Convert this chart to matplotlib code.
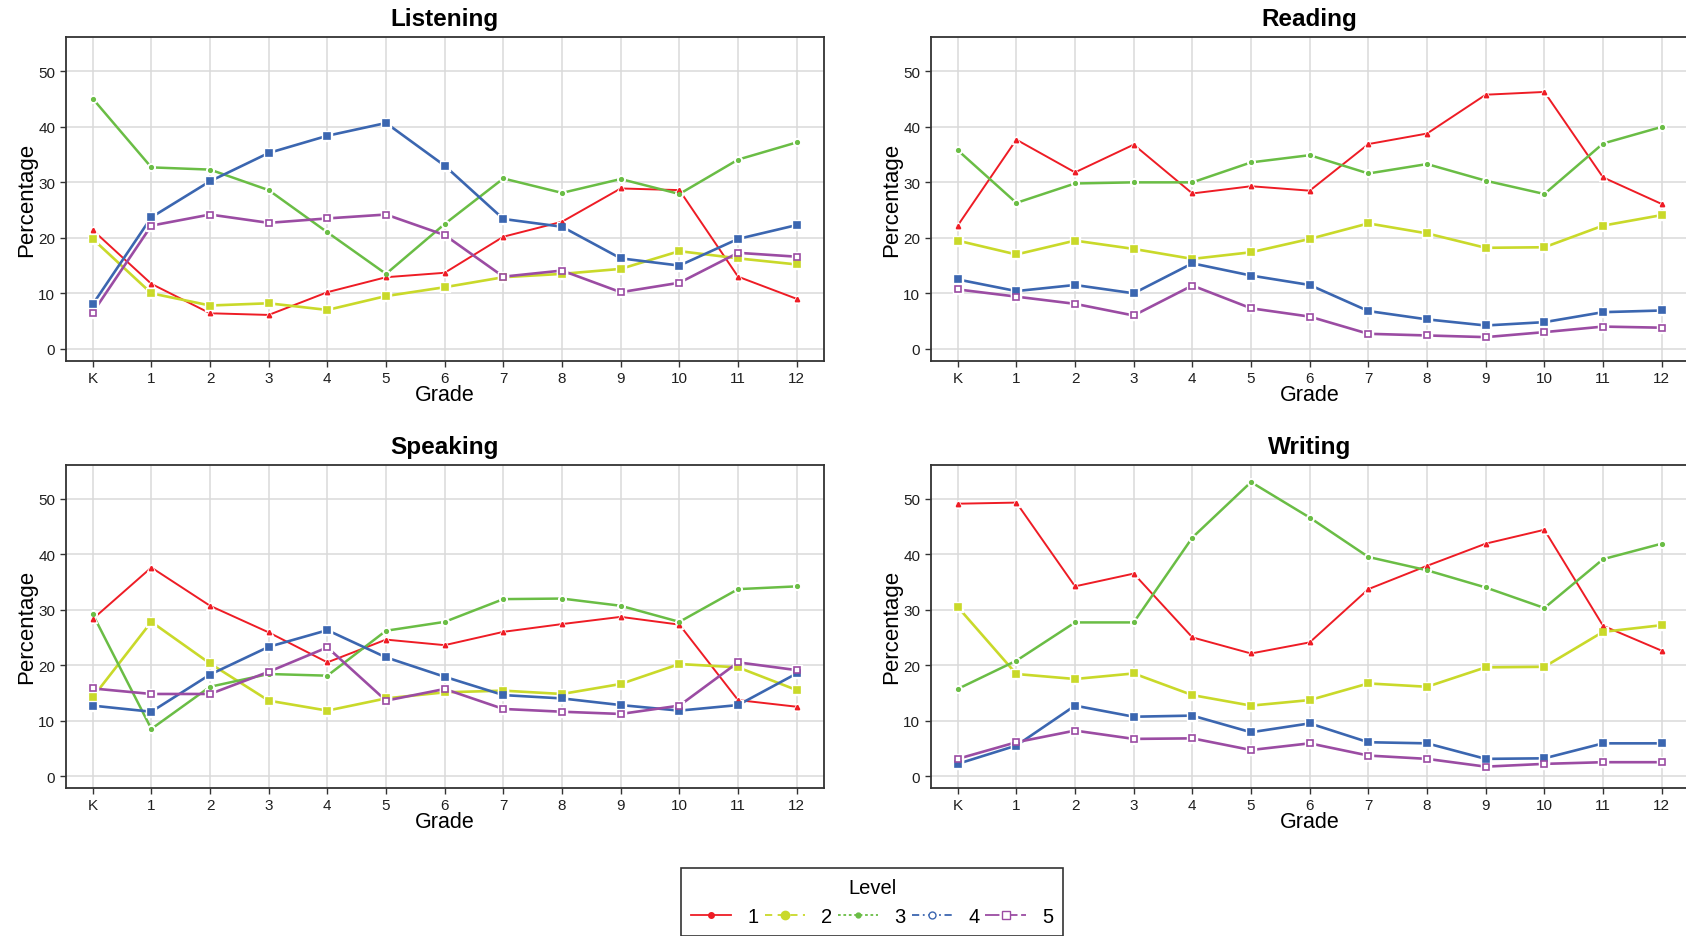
import matplotlib
matplotlib.use('Agg')
import matplotlib.pyplot as plt
from matplotlib.lines import Line2D
import numpy as np

plt.rcParams['font.family'] = ['Liberation Sans', 'DejaVu Sans']

grades = ['K', '1', '2', '3', '4', '5', '6', '7', '8', '9', '10', '11', '12']
levels = ['1', '2', '3', '4', '5']

listening_1 = [21.4, 11.7, 6.4, 6.1, 10.2, 12.9, 13.7, 20.2, 22.9, 28.9, 28.6, 13.0, 9.0]
listening_2 = [19.8, 10.0, 7.8, 8.2, 7.0, 9.5, 11.1, 12.9, 13.5, 14.4, 17.6, 16.3, 15.2]
listening_3 = [45.1, 32.7, 32.3, 28.6, 21.0, 13.5, 22.5, 30.7, 28.1, 30.6, 27.9, 34.1, 37.2]
listening_4 = [8.0, 23.7, 30.2, 35.3, 38.4, 40.7, 33.0, 23.4, 22.0, 16.3, 15.0, 19.8, 22.3]
listening_5 = [6.5, 22.2, 24.2, 22.7, 23.5, 24.2, 20.5, 13.0, 14.1, 10.2, 11.9, 17.3, 16.6]

reading_1 = [22.2, 37.7, 31.8, 36.8, 28.0, 29.3, 28.5, 36.9, 38.8, 45.8, 46.3, 30.9, 26.1]
reading_2 = [19.5, 17.0, 19.5, 18.0, 16.2, 17.4, 19.8, 22.6, 20.8, 18.2, 18.3, 22.2, 24.1]
reading_3 = [35.8, 26.3, 29.8, 30.0, 30.0, 33.6, 34.9, 31.6, 33.3, 30.3, 27.9, 37.0, 40.0]
reading_4 = [12.5, 10.4, 11.5, 10.0, 15.4, 13.2, 11.5, 6.8, 5.3, 4.2, 4.8, 6.6, 6.9]
reading_5 = [10.7, 9.4, 8.1, 6.0, 11.4, 7.3, 5.8, 2.7, 2.4, 2.1, 3.0, 4.0, 3.8]

speaking_1 = [28.3, 37.6, 30.7, 25.9, 20.5, 24.6, 23.6, 26.0, 27.4, 28.7, 27.3, 13.7, 12.5]
speaking_2 = [14.2, 27.8, 20.3, 13.6, 11.8, 14.0, 15.1, 15.4, 14.8, 16.6, 20.2, 19.6, 15.5]
speaking_3 = [29.2, 8.5, 16.1, 18.4, 18.1, 26.2, 27.8, 31.9, 32.0, 30.7, 27.8, 33.7, 34.2]
speaking_4 = [12.7, 11.6, 18.3, 23.3, 26.3, 21.4, 17.9, 14.6, 14.0, 12.8, 11.8, 12.8, 18.5]
speaking_5 = [15.8, 14.8, 14.8, 18.8, 23.2, 13.6, 15.7, 12.1, 11.6, 11.2, 12.7, 20.5, 19.1]

writing_1 = [49.1, 49.3, 34.2, 36.5, 25.0, 22.1, 24.1, 33.7, 37.9, 41.9, 44.4, 27.1, 22.6]
writing_2 = [30.5, 18.4, 17.5, 18.5, 14.6, 12.7, 13.7, 16.7, 16.1, 19.6, 19.7, 26.0, 27.2]
writing_3 = [15.7, 20.8, 27.7, 27.7, 43.0, 53.0, 46.6, 39.5, 37.1, 34.0, 30.3, 39.1, 41.9]
writing_4 = [2.2, 5.5, 12.7, 10.7, 10.9, 7.9, 9.5, 6.1, 5.9, 3.1, 3.2, 5.9, 5.9]
writing_5 = [3.1, 6.1, 8.2, 6.7, 6.8, 4.7, 5.9, 3.7, 3.1, 1.7, 2.2, 2.5, 2.5]

panels = [
    ('Listening', [listening_1, listening_2, listening_3, listening_4, listening_5]),
    ('Reading', [reading_1, reading_2, reading_3, reading_4, reading_5]),
    ('Speaking', [speaking_1, speaking_2, speaking_3, speaking_4, speaking_5]),
    ('Writing', [writing_1, writing_2, writing_3, writing_4, writing_5]),
]

colors = ['#EE1C25', '#C9D92A', '#6ABD45', '#3B66B0', '#9B4CA3']
markers = ['^', 's', 'o', 's', 's']
msizes = [3, 4, 2.5, 4, 4.5]
mfaces = ['#EE1C25', '#C9D92A', '#6ABD45', '#3B66B0', 'white']
lwidths = [1.4, 1.9, 1.8, 1.9, 1.9]

W, H = 1686, 937
fig = plt.figure(figsize=(W / 100, H / 100), dpi=100)

ax_w = 758 / W
ax_h = 323.4 / H
lefts = [65.7 / W, 930.7 / W]
bottoms = [1 - 361.7 / H, 1 - 789 / H]
x = np.arange(len(grades))

for i, (title, series) in enumerate(panels):
    ax = fig.add_axes([lefts[i % 2], bottoms[i // 2], ax_w, ax_h])
    for j, vals in enumerate(series):
        ax.plot(x, vals, color=colors[j], lw=lwidths[j], zorder=3)
        ax.plot(x, vals, ls='none', marker=markers[j], ms=msizes[j] + 3,
                mfc='white', mec='white', zorder=4)
        ax.plot(x, vals, ls='none', marker=markers[j], ms=msizes[j],
                mfc=mfaces[j], mec=colors[j], mew=1.2, zorder=5)
    ax.set_xlim(-0.46, 12.46)
    ax.set_ylim(-2.15, 56.15)
    ax.set_xticks(x)
    ax.set_xticklabels(grades)
    ax.set_yticks([0, 10, 20, 30, 40, 50])
    ax.grid(True, color='#DADADA', lw=1.1, zorder=0)
    ax.set_axisbelow(True)
    for s in ax.spines.values():
        s.set_color('#333333')
        s.set_linewidth(1.3)
    ax.tick_params(axis='both', labelsize=11, colors='#333333',
                   labelcolor='#1f1f1f', length=4, width=1.0)
    ax.set_title(title, fontsize=17.5, fontweight='bold', pad=8.5)
    ax.set_xlabel('Grade', fontsize=15.5, labelpad=-1)
    ax.set_ylabel('Percentage', fontsize=16, labelpad=1)

handles = [
    Line2D([], [], color=colors[0], lw=1.3, ls='-', marker='o', ms=4, mfc=colors[0], mec=colors[0]),
    Line2D([], [], color=colors[1], lw=1.3, ls=(0, (4, 3)), marker='o', ms=6, mfc=colors[1], mec=colors[1]),
    Line2D([], [], color=colors[2], lw=1.3, ls=(0, (1.5, 1.5)), marker='o', ms=3.5, mfc=colors[2], mec=colors[2]),
    Line2D([], [], color=colors[3], lw=1.3, ls=(0, (4, 2, 1, 2)), marker='o', ms=5, mfc='white', mec=colors[3]),
    Line2D([], [], color=colors[4], lw=1.3, ls=(0, (8, 2)), marker='s', ms=6, mfc='white', mec=colors[4]),
]
leg = fig.legend(handles, levels, title='Level', ncol=5, loc='upper center',
                 bbox_to_anchor=(872 / W, 1 - 869 / H), fontsize=14.5, title_fontsize=14.5,
                 handlelength=2.0, handletextpad=0.8, columnspacing=0.3,
                 fancybox=False, edgecolor='#333333', framealpha=1,
                 borderpad=0.5, borderaxespad=0)
leg.get_frame().set_linewidth(1.2)

fig.savefig('out.png', dpi=100)
